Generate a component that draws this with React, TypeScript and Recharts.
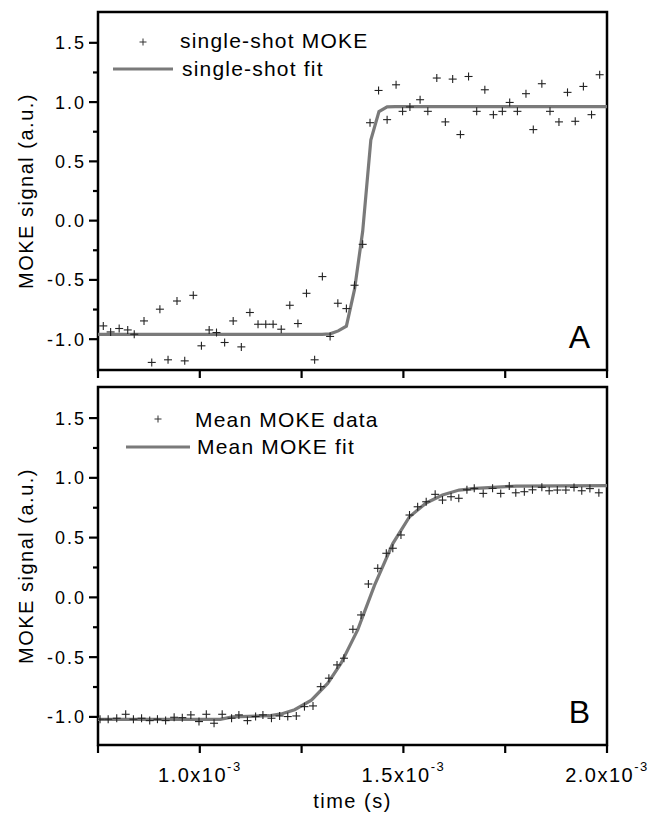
import React from 'react';
import { ComposedChart, Line, Scatter, XAxis, YAxis, ReferenceArea, Label } from 'recharts';

// time in units of 1e-3 s
const shotTime = [0.763,0.781,0.802,0.823,0.839,0.863,0.882,0.902,0.922,0.944,0.963,0.984,1.004,1.023,1.041,1.061,1.082,1.102,1.123,1.143,1.162,1.180,1.200,1.221,1.241,1.262,1.282,1.301,1.320,1.339,1.360,1.380,1.400,1.418,1.439,1.460,1.482,1.498,1.516,1.541,1.560,1.582,1.603,1.621,1.640,1.660,1.680,1.700,1.721,1.743,1.761,1.780,1.801,1.819,1.840,1.860,1.882,1.903,1.922,1.942,1.962,1.982];
const shotSignal = [-0.888,-0.939,-0.910,-0.922,-0.958,-0.846,-1.196,-0.747,-1.174,-0.678,-1.183,-0.630,-1.056,-0.922,-0.944,-1.028,-0.846,-1.065,-0.775,-0.874,-0.874,-0.874,-0.916,-0.714,-0.868,-0.613,-1.174,-0.472,-0.977,-0.697,-0.742,-0.545,-0.200,0.826,1.098,0.852,1.146,0.922,0.959,1.020,0.922,1.203,0.833,1.194,0.726,1.216,0.922,1.104,0.894,0.922,0.997,0.922,1.071,0.768,1.155,0.922,0.833,1.082,0.838,1.132,0.894,1.231];
const shotFitTime = [0.75,1.30,1.32,1.34,1.36,1.38,1.40,1.42,1.44,1.46,1.48,2.0];
const shotFitSignal = [-0.96,-0.96,-0.955,-0.93,-0.89,-0.58,-0.09,0.68,0.92,0.96,0.962,0.962];

const meanTime = [0.755,0.775,0.796,0.818,0.837,0.857,0.877,0.896,0.916,0.937,0.957,0.978,0.998,1.016,1.035,1.055,1.078,1.096,1.117,1.137,1.155,1.176,1.196,1.216,1.237,1.257,1.278,1.297,1.317,1.337,1.354,1.376,1.396,1.414,1.437,1.458,1.474,1.494,1.515,1.535,1.556,1.578,1.596,1.617,1.636,1.656,1.674,1.696,1.719,1.739,1.760,1.776,1.797,1.817,1.840,1.858,1.878,1.899,1.919,1.938,1.958,1.980];
const meanSignal = [-1.019,-1.019,-1.011,-0.978,-1.019,-1.011,-1.031,-1.019,-1.031,-1.003,-1.006,-0.983,-1.039,-0.978,-1.053,-0.978,-1.011,-0.983,-1.031,-0.997,-0.983,-1.011,-0.992,-0.997,-0.992,-0.914,-0.908,-0.747,-0.676,-0.565,-0.509,-0.267,-0.147,0.112,0.243,0.369,0.411,0.522,0.689,0.758,0.800,0.862,0.814,0.842,0.829,0.90,0.912,0.870,0.912,0.870,0.931,0.875,0.884,0.90,0.921,0.892,0.898,0.898,0.92,0.892,0.91,0.875];
const meanFitTime = [0.75,1.05,1.08,1.17,1.20,1.233,1.274,1.314,1.347,1.388,1.429,1.474,1.515,1.556,1.596,1.637,1.678,1.776,2.0];
const meanFitSignal = [-1.02,-1.02,-1.0,-0.99,-0.975,-0.94,-0.86,-0.72,-0.55,-0.27,0.10,0.45,0.675,0.79,0.856,0.898,0.912,0.931,0.935];

const xTicks = [0.75,1.0,1.25,1.5,1.75,2.0];
const xLabelTicks = [1.0,1.5,2.0];
const yTicks = [-1.0,-0.75,-0.5,-0.25,0,0.25,0.5,0.75,1.0,1.25,1.5];
const yLabelTicks = [-1.0,-0.5,0,0.5,1.0,1.5];
const xDomain = [0.75, 2.0];
const yDomainA = [-1.26, 1.76];
const yDomainB = [-1.235, 1.76];
const legendA = ['single-shot MOKE', 'single-shot fit'];
const legendB = ['Mean MOKE data', 'Mean MOKE fit'];
const panelLabels = ['A', 'B'];
const yTitle = 'MOKE signal (a.u.)';
const xTitle = 'time (s)';

const zip = (t: number[], v: number[]) => t.map((x, i) => ({ t: x, v: v[i] }));

const FONT = 'Liberation Sans';
const FIT = '#7a7a7a';
const near = (a: number, arr: number[]) => arr.some((b) => Math.abs(a - b) < 1e-6);

const Plus = (props: any) => {
  const { cx, cy } = props;
  if (cx == null || cy == null) return null;
  return (
    <g stroke="#222" strokeWidth={1.1}>
      <line x1={cx - 4} x2={cx + 4} y1={cy} y2={cy} />
      <line x1={cx} x2={cx} y1={cy - 4} y2={cy + 4} />
    </g>
  );
};

const YTick = (props: any) => {
  const { x, y, payload } = props;
  const v = payload.value;
  const major = near(v, yLabelTicks);
  return (
    <g>
      <line x1={x - (major ? 9 : 5)} x2={x} y1={y} y2={y} stroke="#000" strokeWidth={2.2} />
      {major && (
        <text x={x - 12} y={y + 6.5} textAnchor="end" fontSize={18} letterSpacing={2} fill="#000" fontFamily={FONT} style={{ fontFamily: FONT }}>
          {v.toFixed(1)}
        </text>
      )}
    </g>
  );
};

const makeXTick = (showLabels: boolean) => (props: any) => {
  const { x, y, payload } = props;
  const v = payload.value;
  const major = near(v, xLabelTicks);
  return (
    <g>
      <line x1={x} x2={x} y1={y} y2={y + 8} stroke="#000" strokeWidth={2.2} />
      {showLabels && major && (
        <text x={x} y={y + 37} textAnchor="middle" fontSize={20} letterSpacing={1.5} fill="#000" fontFamily={FONT} style={{ fontFamily: FONT }}>
          {v.toFixed(1) + 'x10'}
          <tspan dy={-11} fontSize={13}>-3</tspan>
        </text>
      )}
    </g>
  );
};

const YTitle = (props: any) => {
  const vb = props.viewBox || {};
  const cy = vb.y + vb.height / 2;
  const bx = 33;
  return (
    <text x={bx} y={cy} transform={`rotate(-90, ${bx}, ${cy})`} textAnchor="middle" fontSize={20} letterSpacing={1.5} fill="#000" fontFamily={FONT} style={{ fontFamily: FONT }}>
      {yTitle}
    </text>
  );
};

const XTitle = (props: any) => {
  const vb = props.viewBox || {};
  return (
    <text x={vb.x + vb.width / 2} y={vb.y + 63} textAnchor="middle" fontSize={20} letterSpacing={1.5} fill="#000" fontFamily={FONT} style={{ fontFamily: FONT }}>
      {xTitle}
    </text>
  );
};

const panelTag = (txt: string) => (props: any) => {
  const vb = props.viewBox || {};
  return (
    <text x={vb.x + vb.width - 17} y={vb.y + vb.height - 22} textAnchor="end" fontSize={32} fill="#000" fontFamily={FONT} style={{ fontFamily: FONT }}>
      {txt}
    </text>
  );
};

const Panel = (p: {
  height: number; top: number; xAxisHeight: number; showX: boolean;
  yDomain: number[]; pts: { t: number; v: number }[]; fit: { t: number; v: number }[]; tag: string;
}) => (
  <ComposedChart width={660} height={p.height} margin={{ top: p.top, right: 53, bottom: 0, left: 0 }}>
    <XAxis type="number" dataKey="t" domain={xDomain} ticks={xTicks} allowDataOverflow
      axisLine={false} tickLine={false} tickSize={0} tickMargin={0} height={p.xAxisHeight}
      tick={makeXTick(p.showX)} interval={0}>
      {p.showX && <Label content={XTitle} />}
    </XAxis>
    <YAxis type="number" dataKey="v" domain={p.yDomain} ticks={yTicks} allowDataOverflow
      axisLine={false} tickLine={false} tickSize={0} tickMargin={0} width={98}
      tick={YTick} interval={0}>
      <Label content={YTitle} />
    </YAxis>
    <Line data={p.fit} dataKey="v" type="linear" stroke={FIT} strokeWidth={3.2} dot={false} isAnimationActive={false} />
    <Scatter data={p.pts} dataKey="v" shape={Plus} isAnimationActive={false} />
    <ReferenceArea x1={xDomain[0]} x2={xDomain[1]} y1={p.yDomain[0]} y2={p.yDomain[1]}
      fill="none" fillOpacity={0} stroke="#000" strokeWidth={2.5} ifOverflow="visible">
      <Label content={panelTag(p.tag)} />
    </ReferenceArea>
  </ComposedChart>
);

const LegendBlock = (p: { px: number; py: number; tx: number; ty: number; lx1: number; lx2: number; ly: number; fx: number; fy: number; labels: string[] }) => (
  <g fontFamily={FONT} fontSize={21} fill="#000" style={{ fontFamily: FONT }}>
    <g stroke="#333" strokeWidth={1}>
      <line x1={p.px - 3.5} x2={p.px + 3.5} y1={p.py} y2={p.py} />
      <line x1={p.px} x2={p.px} y1={p.py - 3.5} y2={p.py + 3.5} />
    </g>
    <text x={p.tx} y={p.ty} letterSpacing={1.2}>{p.labels[0]}</text>
    <line x1={p.lx1} x2={p.lx2} y1={p.ly} y2={p.ly} stroke={FIT} strokeWidth={3} />
    <text x={p.fx} y={p.fy} letterSpacing={1.2}>{p.labels[1]}</text>
  </g>
);

export default function App() {
  return (
    <div style={{ position: 'absolute', left: 0, top: 0, width: 660, height: 816, background: '#fff', fontFamily: FONT }}>
      <div style={{ position: 'absolute', left: 0, top: 0 }}>
        <Panel height={385} top={12} xAxisHeight={15} showX={false} yDomain={yDomainA}
          pts={zip(shotTime, shotSignal)} fit={zip(shotFitTime, shotFitSignal)} tag={panelLabels[0]} />
      </div>
      <div style={{ position: 'absolute', left: 0, top: 385 }}>
        <Panel height={431} top={2} xAxisHeight={71} showX={true} yDomain={yDomainB}
          pts={zip(meanTime, meanSignal)} fit={zip(meanFitTime, meanFitSignal)} tag={panelLabels[1]} />
      </div>
      <svg width={660} height={816} style={{ position: 'absolute', left: 0, top: 0, pointerEvents: 'none' }}>
        <LegendBlock px={143} py={42} tx={180} ty={48} lx1={113} lx2={173} ly={69} fx={182} fy={76} labels={legendA} />
        <LegendBlock px={158} py={419} tx={195} ty={427} lx1={126} lx2={190} ly={447} fx={197} fy={454} labels={legendB} />
      </svg>
    </div>
  );
}
